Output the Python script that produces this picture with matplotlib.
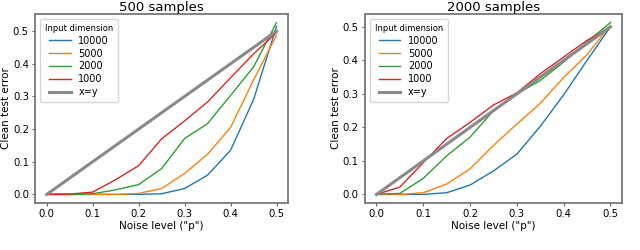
import matplotlib
matplotlib.use("Agg")
from matplotlib import pyplot as plt

noise = [0.0, 0.05, 0.1, 0.15, 0.2, 0.25, 0.3, 0.35, 0.4, 0.45, 0.5]
dims = ["10000", "5000", "2000", "1000"]

# 500 samples
err_500 = {
    "10000": [0.0, 0.0, 0.0, 0.0, 0.0, 0.002, 0.018, 0.059, 0.135, 0.29, 0.514],
    "5000": [0.0, 0.0, 0.0, 0.0, 0.003, 0.018, 0.064, 0.123, 0.205, 0.35, 0.487],
    "2000": [0.0, 0.0, 0.002, 0.014, 0.03, 0.079, 0.171, 0.217, 0.303, 0.39, 0.526],
    "1000": [0.0, 0.001, 0.007, 0.045, 0.088, 0.17, 0.225, 0.283, 0.357, 0.43, 0.495],
}

# 2000 samples
err_2000 = {
    "10000": [0.0, 0.0, 0.0, 0.005, 0.028, 0.07, 0.12, 0.203, 0.297, 0.4, 0.5],
    "5000": [0.0, 0.0, 0.005, 0.031, 0.076, 0.146, 0.21, 0.272, 0.349, 0.417, 0.505],
    "2000": [0.0, 0.003, 0.048, 0.115, 0.171, 0.25, 0.3, 0.34, 0.395, 0.455, 0.513],
    "1000": [0.0, 0.022, 0.095, 0.167, 0.215, 0.267, 0.303, 0.36, 0.41, 0.46, 0.5],
}

colors = ["#1f77b4", "#ff7f0e", "#2ca02c", "#d62728"]

fig = plt.figure(figsize=(6.4, 2.5), dpi=100)
ax1 = fig.add_axes([0.055, 0.188, 0.395, 0.756])
ax2 = fig.add_axes([0.570, 0.188, 0.402, 0.756])

for ax, data, title in [(ax1, err_500, "500 samples"), (ax2, err_2000, "2000 samples")]:
    for d, c in zip(dims, colors):
        ax.plot(noise, data[d], color=c, lw=1.0, label=d)
    ax.plot(noise, noise, color="#8a8a8a", lw=2.2, label="x=y")
    ax.set_title(title, fontsize=9.5, pad=2)
    ax.set_xlabel('Noise level ("p")', fontsize=7.5, labelpad=1)
    ax.set_ylabel("Clean test error", fontsize=7.5, labelpad=1)
    ax.set_xticks([0.0, 0.1, 0.2, 0.3, 0.4, 0.5])
    ax.set_yticks([0.0, 0.1, 0.2, 0.3, 0.4, 0.5])
    ax.tick_params(labelsize=7.3, length=2.5, pad=2, color="#666666")
    for s in ax.spines.values():
        s.set_color("#777777")
        s.set_linewidth(1.3)
    leg = ax.legend(loc="upper left", title="Input dimension", fontsize=7,
                    title_fontsize=6, handlelength=2.2, labelspacing=0.3,
                    borderpad=0.5, framealpha=0.8)

fig.savefig("out.png", dpi=100)
